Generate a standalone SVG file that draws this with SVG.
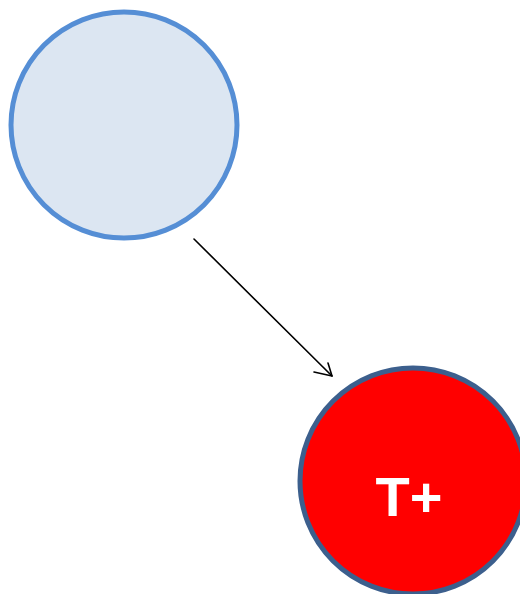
<svg xmlns="http://www.w3.org/2000/svg" width="520" height="594" viewBox="0 0 520 594">
<style>
.conn{stroke:#000;stroke-width:1.6;fill:none;stroke-linecap:round;stroke-linejoin:round}
.lbl{font-family:"Liberation Sans",Arial,sans-serif;font-weight:bold;fill:#fff;text-anchor:middle}
</style>
<rect width="520" height="594" fill="#fff"/>
<g id="node-a">
<circle cx="124" cy="125" r="113" fill="#dce6f2" stroke="#558ed5" stroke-width="5"/>
</g>
<g id="node-b">
<circle cx="413" cy="481" r="113" fill="#ff0000" stroke="#3c5f8d" stroke-width="5"/>
<text class="lbl" x="409" y="516" font-size="56">T+</text>
</g>
<g id="connectors">
<line class="conn" x1="194" y1="239" x2="332" y2="376"/>
<polyline class="conn" points="314,372 332,376 328,363"/>
</g>
</svg>
